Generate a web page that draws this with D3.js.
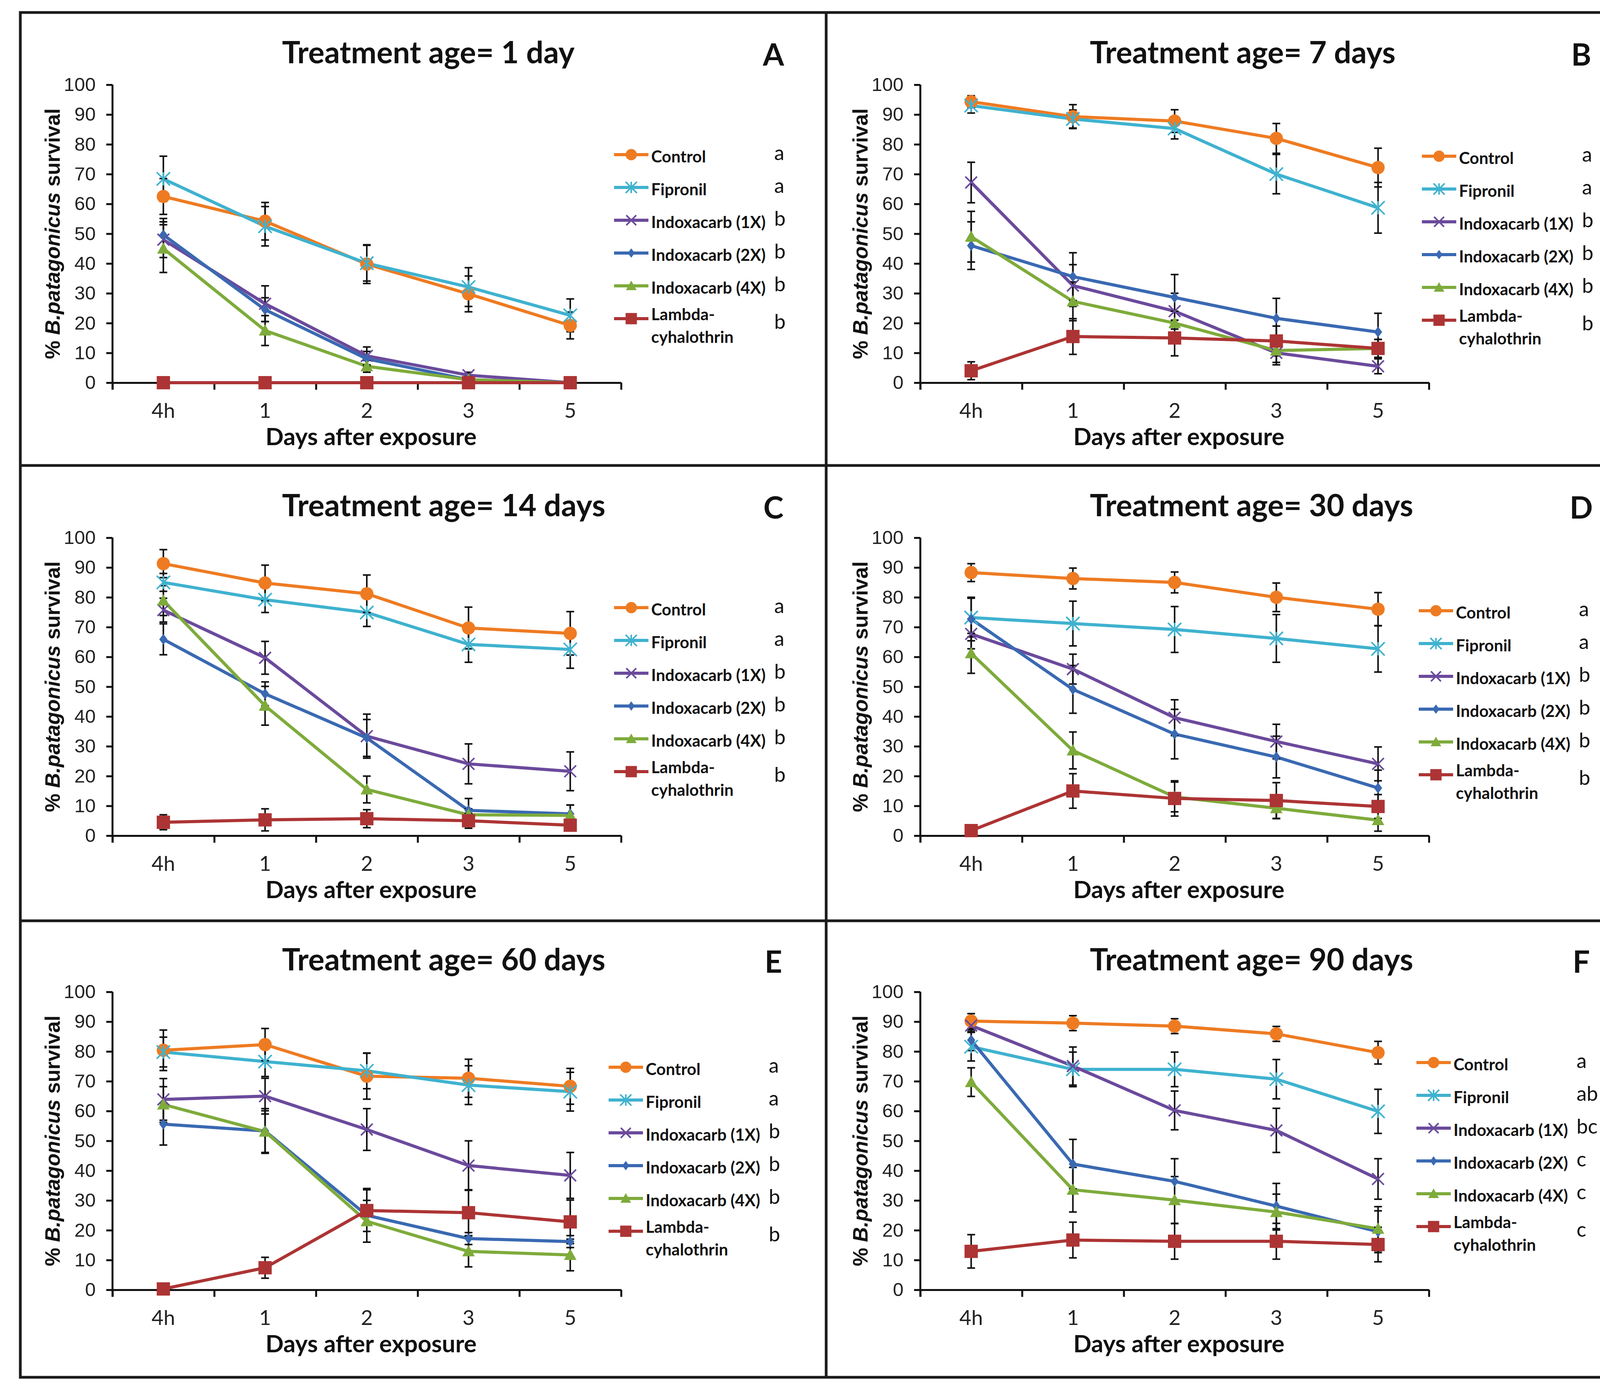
<!DOCTYPE html>
<html>
  <head>
    <script type="text/javascript" src="https://d3js.org/d3.v7.min.js"></script>
    <style>
      body { margin: 0; background: #fff; }
    </style>
  </head>
  <body>
  <script type='text/javascript'>

    // DATA //
    var categories = ["4h", "1", "2", "3", "5"];
    var seriesNames = ["Control", "Fipronil", "Indoxacarb (1X)", "Indoxacarb (2X)", "Indoxacarb (4X)", "Lambda-cyhalothrin"];
    var legendLines = [["Control"], ["Fipronil"], ["Indoxacarb (1X)"], ["Indoxacarb (2X)"], ["Indoxacarb (4X)"], ["Lambda-", "cyhalothrin"]];
    var panelTitles = ["Treatment age= 1 day", "Treatment age= 7 days", "Treatment age= 14 days",
                       "Treatment age= 30 days", "Treatment age= 60 days", "Treatment age= 90 days"];
    var panelLetters = ["A", "B", "C", "D", "E", "F"];
    var yTicks = [0, 10, 20, 30, 40, 50, 60, 70, 80, 90, 100];

    var sigA = ["a", "a", "b", "b", "b", "b"];
    var sigB = ["a", "a", "b", "b", "b", "b"];
    var sigC = ["a", "a", "b", "b", "b", "b"];
    var sigD = ["a", "a", "b", "b", "b", "b"];
    var sigE = ["a", "a", "b", "b", "b", "b"];
    var sigF = ["a", "ab", "bc", "c", "c", "c"];

    // mean % survival, one row per series
    var meanA = [[62.5, 54.2, 39.8, 29.8, 19.2],
                 [68.4, 52.5, 40.1, 32.1, 22.6],
                 [48, 26.5, 9, 2.5, 0],
                 [49.6, 24.5, 8, 1, 0],
                 [45, 17.5, 5.5, 1, 0],
                 [0, 0, 0, 0, 0]];
    var errA  = [[6, 6.3, 6.5, 6, 4.5],
                 [7.6, 6.6, 6, 6.5, 5.5],
                 [6, 6, 3, 1, 0],
                 [5.5, 4, 2.5, 1, 0],
                 [8, 5, 2, 1, 0],
                 [0, 0, 0, 0, 0]];

    var meanB = [[94.3, 89.3, 87.8, 82, 72.2],
                 [93, 88.5, 85.3, 70, 58.7],
                 [67.2, 32.6, 24, 10, 5.5],
                 [46, 35.6, 28.6, 21.6, 17],
                 [49, 27.3, 20, 10.8, 11.5],
                 [4, 15.5, 15, 14, 11.5]];
    var errB  = [[2, 4, 3.8, 5, 6.5],
                 [2.5, 3, 3.5, 6.6, 8.5],
                 [6.8, 7, 6, 4, 2.5],
                 [8, 8, 7.7, 6.7, 6.3],
                 [8.5, 6.5, 4, 4, 3],
                 [3, 6, 6, 5, 3]];

    var meanC = [[91.3, 84.8, 81.2, 69.7, 67.9],
                 [85, 79.2, 74.9, 64.2, 62.5],
                 [75.7, 59.7, 33.4, 24.1, 21.6],
                 [65.9, 47.6, 32.8, 8.5, 7.3],
                 [78.9, 43.6, 15.5, 7, 6.8],
                 [4.5, 5.3, 5.7, 5, 3.5]];
    var errC  = [[4.7, 6, 6.3, 7, 7.3],
                 [3, 4.3, 4.7, 6, 6.3],
                 [4, 5.5, 7.4, 6.7, 6.5],
                 [5.2, 4, 6.2, 4, 3],
                 [5, 6.5, 4.5, 2, 3.5],
                 [2.5, 3.7, 3, 2.5, 1]];

    var meanD = [[88.3, 86.3, 85, 80, 76],
                 [73.2, 71.2, 69.2, 66.2, 62.7],
                 [67.7, 55.9, 39.6, 31.6, 24.1],
                 [72.7, 49.1, 34.1, 26.4, 16],
                 [61.2, 28.6, 13, 9.2, 5.2],
                 [1.7, 15, 12.5, 11.8, 9.8]];
    var errD  = [[3, 3.5, 3.5, 4.8, 5.6],
                 [6.5, 7.5, 7.7, 8, 7.8],
                 [5, 5, 6, 5.8, 5.7],
                 [7.3, 8, 8.3, 7, 6],
                 [6.7, 6.2, 5, 3.5, 3.7],
                 [1, 5.8, 5.9, 6, 4]];

    var meanE = [[80.4, 82.3, 71.7, 71, 68.3],
                 [79.8, 76.6, 73.5, 68.7, 66.5],
                 [63.9, 65, 53.8, 41.7, 38.4],
                 [55.6, 53.3, 25, 17.2, 16.2],
                 [62.2, 53.1, 23, 12.9, 11.7],
                 [0.3, 7.4, 26.6, 25.9, 22.8]];
    var errE  = [[6.8, 5.4, 7.7, 6.4, 6],
                 [5, 5, 6, 6.5, 6.5],
                 [7, 6, 7, 8.3, 7.7],
                 [7, 7.5, 9, 2, 2],
                 [6, 7, 7, 5.2, 5.3],
                 [0.5, 3.5, 7, 7.7, 7.3]];

    var meanF = [[90.2, 89.5, 88.5, 85.9, 79.6],
                 [81.6, 74, 74, 70.7, 59.9],
                 [88.7, 75.1, 60.2, 53.5, 37.2],
                 [83.8, 42.2, 36.4, 28.1, 19.5],
                 [69.7, 33.6, 30.1, 26.1, 20.5],
                 [12.9, 16.7, 16.3, 16.3, 15.2]];
    var errF  = [[2.5, 2.5, 2.5, 2.5, 3.8],
                 [4.8, 5.8, 5.8, 6.6, 7.4],
                 [2, 6.4, 6.5, 7.4, 6.8],
                 [3.5, 8.3, 7.6, 7.6, 7],
                 [4.8, 7.5, 7.9, 6, 7.4],
                 [5.6, 6, 6, 6, 5.8]];

    var panelMeans = [meanA, meanB, meanC, meanD, meanE, meanF];
    var panelErrs = [errA, errB, errC, errD, errE, errF];
    var panelSig = [sigA, sigB, sigC, sigD, sigE, sigF];

    // STYLE //
    var colors = ["#EE7B22", "#3FB2CF", "#6B4A9C", "#3A69B2", "#7EAB3B", "#AD3434"];
    var markerKind = ["circle", "star", "x", "diamond", "triangle", "square"];

    var W = 4217, H = 3557;
    var PANEL_DX = [0, 2068];
    var PANEL_DY = [0, 1160, 2323];
    var PLOT_LEFT = 288, PLOT_RIGHT = 1590, PLOT_TOP = 217, PLOT_BOTTOM = 980;
    var LEGEND_SHIFT_X = [0, 0, 0, -8, -14, -14];
    var LEGEND_SHIFT_Y = [0, 4, 0, 8, 14, 2];

    var svg = d3.select("body").append("svg")
        .attr("width", W)
        .attr("height", H);

    svg.append("rect")
        .attr("width", W)
        .attr("height", H)
        .attr("fill", "#fff");

    var x = d3.scaleBand().domain(categories).range([PLOT_LEFT, PLOT_RIGHT]).paddingInner(0).paddingOuter(0);
    var xEdges = d3.scaleLinear().domain([0, categories.length]).range([PLOT_LEFT, PLOT_RIGHT]);
    var y = d3.scaleLinear().domain([0, 100]).range([PLOT_BOTTOM, PLOT_TOP]);

    function markerPath(kind, s){
      var h = s / 2;
      if(kind == "circle") return d3.symbol(d3.symbolCircle, Math.PI * h * h)();
      if(kind == "square") return d3.symbol(d3.symbolSquare, s * s)();
      if(kind == "diamond") return "M0," + (-h) + "L" + (h*0.75) + ",0L0," + h + "L" + (-h*0.75) + ",0Z";
      if(kind == "triangle") return "M0," + (-h) + "L" + h + "," + (h*0.8) + "L" + (-h) + "," + (h*0.8) + "Z";
      if(kind == "x") return "M" + (-h) + "," + (-h) + "L" + h + "," + h + "M" + (-h) + "," + h + "L" + h + "," + (-h);
      // star = x + vertical bar
      return "M" + (-h) + "," + (-h) + "L" + h + "," + h + "M" + (-h) + "," + h + "L" + h + "," + (-h) +
             "M0," + (-h) + "L0," + h;
    }

    var markerSize = [34, 34, 30, 28, 32, 34];

    function drawMarker(g, kind, color, size, px, py){
      var stroked = (kind == "x" || kind == "star");
      g.append("path")
        .attr("transform", "translate(" + px + "," + py + ")")
        .attr("d", markerPath(kind, size))
        .attr("fill", stroked ? "none" : color)
        .attr("stroke", stroked ? color : "none")
        .attr("stroke-width", stroked ? 4 : 0);
    }

    function drawPanel(p){
      var col = p % 2, row = Math.floor(p / 2);
      var g = svg.append("g")
          .attr("transform", "translate(" + PANEL_DX[col] + "," + PANEL_DY[row] + ")");
      var means = panelMeans[p], errs = panelErrs[p];

      // title + letter
      g.append("text")
        .attr("x", 722).attr("y", 162)
        .attr("font-family", "Lato, sans-serif").attr("font-weight", "bold")
        .attr("font-size", 78).attr("fill", "#111")
        .text(panelTitles[p]);
      g.append("text")
        .attr("x", 1980).attr("y", 168)
        .attr("text-anchor", "middle")
        .attr("font-family", "Lato, sans-serif").attr("font-weight", "bold")
        .attr("font-size", 78).attr("fill", "#111")
        .text(panelLetters[p]);

      // y axis
      var yAxis = g.append("g")
          .attr("transform", "translate(" + PLOT_LEFT + ",0)")
          .call(d3.axisLeft(y).tickValues(yTicks).tickSize(16).tickSizeOuter(0).tickPadding(27));
      yAxis.select(".domain").attr("stroke", "#111").attr("stroke-width", 5)
          .attr("d", "M0," + PLOT_TOP + "V" + (PLOT_BOTTOM + 18));
      yAxis.selectAll(".tick line").attr("stroke", "#111").attr("stroke-width", 5);
      yAxis.selectAll(".tick text")
          .attr("font-family", "'Liberation Sans', Arial, sans-serif")
          .attr("font-size", 49).attr("fill", "#222");

      // x axis: marks at band edges, labels at band centres
      var xTickAxis = g.append("g")
          .attr("transform", "translate(0," + PLOT_BOTTOM + ")")
          .call(d3.axisBottom(xEdges).ticks(categories.length).tickFormat("").tickSize(18).tickSizeOuter(0));
      xTickAxis.select(".domain").attr("stroke", "#111").attr("stroke-width", 5);
      xTickAxis.selectAll(".tick line").attr("stroke", "#111").attr("stroke-width", 5);

      var xLabAxis = g.append("g")
          .attr("transform", "translate(0," + PLOT_BOTTOM + ")")
          .call(d3.axisBottom(x).tickSize(0));
      xLabAxis.select(".domain").remove();
      xLabAxis.selectAll(".tick text")
          .attr("y", 90).attr("dy", 0)
          .attr("font-family", "Lato, sans-serif")
          .attr("font-size", 53).attr("fill", "#222");

      // axis titles
      g.append("text")
        .attr("x", 950).attr("y", 1140)
        .attr("text-anchor", "middle")
        .attr("font-family", "Lato, sans-serif").attr("font-weight", "bold")
        .attr("font-size", 61).attr("fill", "#111")
        .text("Days after exposure");

      var yt = g.append("text")
        .attr("transform", "translate(153," + ((PLOT_TOP + PLOT_BOTTOM) / 2) + ") rotate(-90)")
        .attr("text-anchor", "middle")
        .attr("font-family", "'Liberation Sans', Arial, sans-serif").attr("font-weight", "bold")
        .attr("font-size", 53).attr("fill", "#111");
      yt.append("tspan").text("% ");
      yt.append("tspan").attr("font-style", "italic").text("B.patagonicus");
      yt.append("tspan").text(" survival");

      var line = d3.line()
          .x(function(d, i){ return x(categories[i]) + x.bandwidth() / 2; })
          .y(function(d){ return y(d); });

      // lines
      means.forEach(function(vals, s){
        g.append("path")
          .datum(vals)
          .attr("d", line)
          .attr("fill", "none")
          .attr("stroke", colors[s])
          .attr("stroke-width", 8)
          .attr("stroke-linejoin", "round");
      });

      // error bars
      means.forEach(function(vals, s){
        vals.forEach(function(v, i){
          var e = errs[s][i];
          if(e <= 0) return;
          var cx = x(categories[i]) + x.bandwidth() / 2;
          var y1 = y(Math.min(100, v + e)), y2 = y(Math.max(0, v - e));
          g.append("path")
            .attr("d", "M" + cx + "," + y1 + "V" + y2 +
                       "M" + (cx - 10) + "," + y1 + "H" + (cx + 10) +
                       "M" + (cx - 10) + "," + y2 + "H" + (cx + 10))
            .attr("stroke", "#111")
            .attr("stroke-width", 4)
            .attr("fill", "none");
        });
      });

      // markers
      means.forEach(function(vals, s){
        vals.forEach(function(v, i){
          drawMarker(g, markerKind[s], colors[s], markerSize[s],
                     x(categories[i]) + x.bandwidth() / 2, y(v));
        });
      });

      // legend
      var lx = 1572 + LEGEND_SHIFT_X[p], ly0 = 396 + LEGEND_SHIFT_Y[p];
      seriesNames.forEach(function(name, s){
        var ly = ly0 + s * 84;
        g.append("line")
          .attr("x1", lx).attr("x2", lx + 88)
          .attr("y1", ly).attr("y2", ly)
          .attr("stroke", colors[s]).attr("stroke-width", 8);
        drawMarker(g, markerKind[s], colors[s], markerSize[s] * 0.85, lx + 44, ly);

        var lines = legendLines[s];
        lines.forEach(function(t, k){
          g.append("text")
            .attr("x", lx + 95)
            .attr("y", lines.length > 1 ? ly + 4 + k * 58 : ly + 20)
            .attr("font-family", "Lato, sans-serif").attr("font-weight", "bold")
            .attr("font-size", 42).attr("fill", "#111")
            .text(t);
        });

        g.append("text")
          .attr("x", 1982 + LEGEND_SHIFT_X[p])
          .attr("y", lines.length > 1 ? ly + 26 : ly + 14)
          .attr("font-family", "Lato, sans-serif")
          .attr("font-size", 52).attr("fill", "#111")
          .text(panelSig[p][s]);
      });
    }

    for(var p = 0; p < 6; p++){
      drawPanel(p);
    }

    // FRAME //
    var frame = svg.append("g")
        .attr("fill", "none")
        .attr("stroke", "#1b1b1b")
        .attr("stroke-width", 7);
    frame.append("rect").attr("x", 52).attr("y", 32).attr("width", 4180 - 52).attr("height", 3527 - 32);
    frame.append("line").attr("x1", 2115).attr("x2", 2115).attr("y1", 32).attr("y2", 3527);
    frame.append("line").attr("x1", 52).attr("x2", 4180).attr("y1", 1192).attr("y2", 1192);
    frame.append("line").attr("x1", 52).attr("x2", 4180).attr("y1", 2358).attr("y2", 2358);

  </script>
  </body>
</html>
